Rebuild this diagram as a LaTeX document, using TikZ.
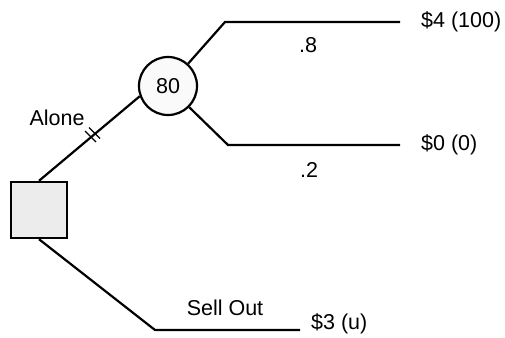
\documentclass[tikz,border=0pt]{standalone}
\usepackage{fontspec}
\setmainfont{Liberation Sans}
\begin{document}
\begin{tikzpicture}[x=1pt,y=-1pt,
  lbl/.style={font=\fontsize{21.5}{23}\selectfont, inner sep=0pt},
  br/.style={line width=2.2pt},
  tk/.style={line width=1.1pt}]
\useasboundingbox (0,0) rectangle (505,337);
\node[draw, line width=2.4pt, fill=gray!15, minimum size=56pt, inner sep=0pt] (sq) at (39,210) {};
\node[draw, circle, line width=2.2pt, fill=gray!4, minimum size=58pt, inner sep=0pt, lbl] (ch) at (168,86) {80};
\coordinate (u1) at (225,22);
\coordinate (u2) at (400,22);
\coordinate (l1) at (228,145);
\coordinate (l2) at (400,145);
\coordinate (s1) at (155,330);
\coordinate (s2) at (300,330);
\draw[br] (sq.north) -- (ch.200);
\draw[br] (ch.48) -- (u1) -- (u2);
\draw[br] (ch.-45) -- (l1) -- (l2);
\draw[br] (sq.south) -- (s1) -- (s2);
\draw[tk] (85,131) -- (96,142);
\draw[tk] (89,127.5) -- (100,138.5);
\node[lbl, anchor=west] (v1) at (421,22) {\$4 (100)};
\node[lbl, anchor=west] (v2) at (421,145) {\$0 (0)};
\node[lbl, anchor=west] (v3) at (311,324) {\$3 (u)};
\node[lbl] (p1) at (308,45) {.8};
\node[lbl] (p2) at (309,170) {.2};
\node[lbl] (al) at (57,118) {Alone};
\node[lbl] (so) at (225,308) {Sell Out};
\end{tikzpicture}
\end{document}
